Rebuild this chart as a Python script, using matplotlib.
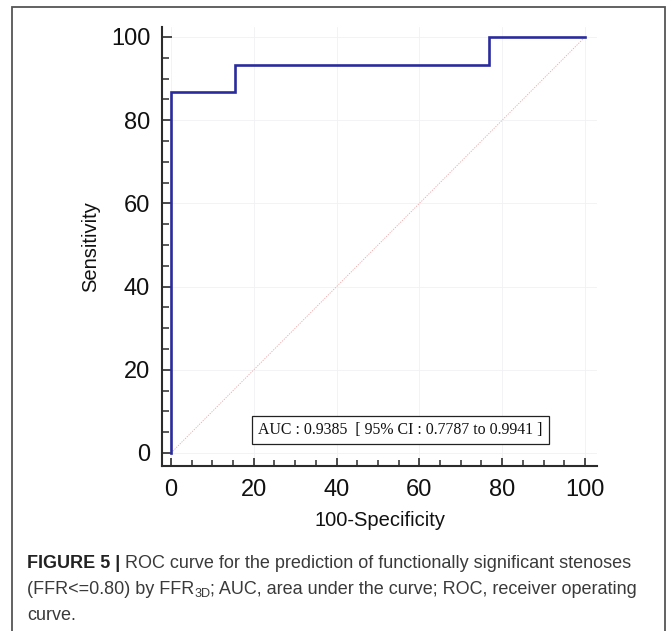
import matplotlib
matplotlib.use("Agg")
import matplotlib.pyplot as plt
from matplotlib.patches import Rectangle
from matplotlib.ticker import MultipleLocator

# ---- data ----
fpr = [0, 0, 15.38, 15.38, 76.92, 76.92, 100]          # 100-Specificity
tpr = [0, 86.67, 86.67, 93.33, 93.33, 100, 100]        # Sensitivity
diag_x = [0, 100]
diag_y = [0, 100]
x_ticks = [0, 20, 40, 60, 80, 100]
y_ticks = [0, 20, 40, 60, 80, 100]
auc_text = "AUC : 0.9385  [ 95% CI : 0.7787 to 0.9941 ]"
x_label = "100-Specificity"
y_label = "Sensitivity"

W, H = 668, 631
fig = plt.figure(figsize=(W / 100, H / 100), dpi=100)
fig.patch.set_facecolor("white")

def fx(px):
    return px / W

def fy(py):
    return 1 - py / H

# axes pixel box
L, R, T, B = 162, 597, 27, 466
ax = fig.add_axes([fx(L), fy(B), fx(R) - fx(L), fy(T) - fy(B)])
ax.set_xlim(-2.17, 102.9)
ax.set_ylim(-3.125, 102.4)

sans = ["Liberation Sans", "DejaVu Sans"]
ax.plot(diag_x, diag_y, color="#eba8a8", lw=0.6, ls=(0, (1.5, 1.5)), zorder=2)
ax.step(fpr, tpr, where="post", color="#2a2c9e", lw=1.9, zorder=3, solid_joinstyle="miter")

for s in ["top", "right"]:
    ax.spines[s].set_visible(False)
for s in ["left", "bottom"]:
    ax.spines[s].set_linewidth(1.5)
    ax.spines[s].set_color("#2b2b2b")

ax.set_xticks(x_ticks)
ax.set_yticks(y_ticks)
ax.xaxis.set_minor_locator(MultipleLocator(5))
ax.yaxis.set_minor_locator(MultipleLocator(5))
ax.tick_params(axis="both", which="major", direction="in", width=1.2, color="#2b2b2b",
               labelsize=17, labelcolor="#111111")
ax.tick_params(axis="y", which="major", length=7, pad=8.5)
ax.tick_params(axis="x", which="major", length=6, pad=9.5)
ax.tick_params(axis="y", which="minor", direction="in", length=5, width=1.1, color="#2b2b2b")
ax.tick_params(axis="x", which="minor", direction="in", length=4, width=1.1, color="#2b2b2b")
for lab in ax.get_xticklabels() + ax.get_yticklabels():
    lab.set_family(sans)

ax.grid(True, which="major", color="#f1f1f4", lw=0.6, zorder=0)

ax.set_xlabel(x_label, fontsize=14.5, family=sans, color="#111111", labelpad=7)
ax.set_ylabel(y_label, fontsize=14.5, family=sans, color="#111111", labelpad=8)

ax.text(0.548, 0.082, auc_text, transform=ax.transAxes, ha="center", va="center",
        fontsize=11.4, family=["Liberation Serif", "DejaVu Serif"], color="#111111",
        bbox=dict(boxstyle="square,pad=0.4", fc="white", ec="#222222", lw=0.9), zorder=4)

# outer frame
fig.patches.append(Rectangle((fx(12), fy(640)), fx(665) - fx(12), fy(7) - fy(640),
                             transform=fig.transFigure, fill=False, ec="#555555", lw=1.3,
                             clip_on=False))

# ---- caption ----
cap_fam = ["Liberation Sans Narrow", "Liberation Sans", "DejaVu Sans"]
renderer = fig.canvas.get_renderer()
cap_color = "#3a3a3a"

def measure(s, size, weight="normal"):
    t = fig.text(0, 0, s, fontsize=size, family=cap_fam, weight=weight)
    w = t.get_window_extent(renderer).width
    t.remove()
    return w

line1_bold = "FIGURE 5 | "
line1_rest = "ROC curve for the prediction of functionally significant stenoses"
# fit font size so that line 1 spans about 605 px
w12 = measure(line1_bold, 12, "bold") + measure(line1_rest, 12)
cs = 12 * 605 / w12

def run(parts, x0, ybase):
    x = x0
    for s, size, weight, dy in parts:
        t = fig.text(fx(x), fy(ybase - dy), s, fontsize=size, family=cap_fam, weight=weight,
                     color="#222222" if weight == "bold" else cap_color, va="baseline", ha="left")
        x += t.get_window_extent(renderer).width

run([(line1_bold, cs, "bold", 0), (line1_rest, cs, "normal", 0)], 27, 568)
run([("(FFR<=0.80) by FFR", cs, "normal", 0), ("3D", cs * 0.7, "normal", -3),
     ("; AUC, area under the curve; ROC, receiver operating", cs, "normal", 0)], 27, 594)
run([("curve.", cs, "normal", 0)], 27, 620)

fig.savefig("out.png", dpi=100, facecolor="white")
